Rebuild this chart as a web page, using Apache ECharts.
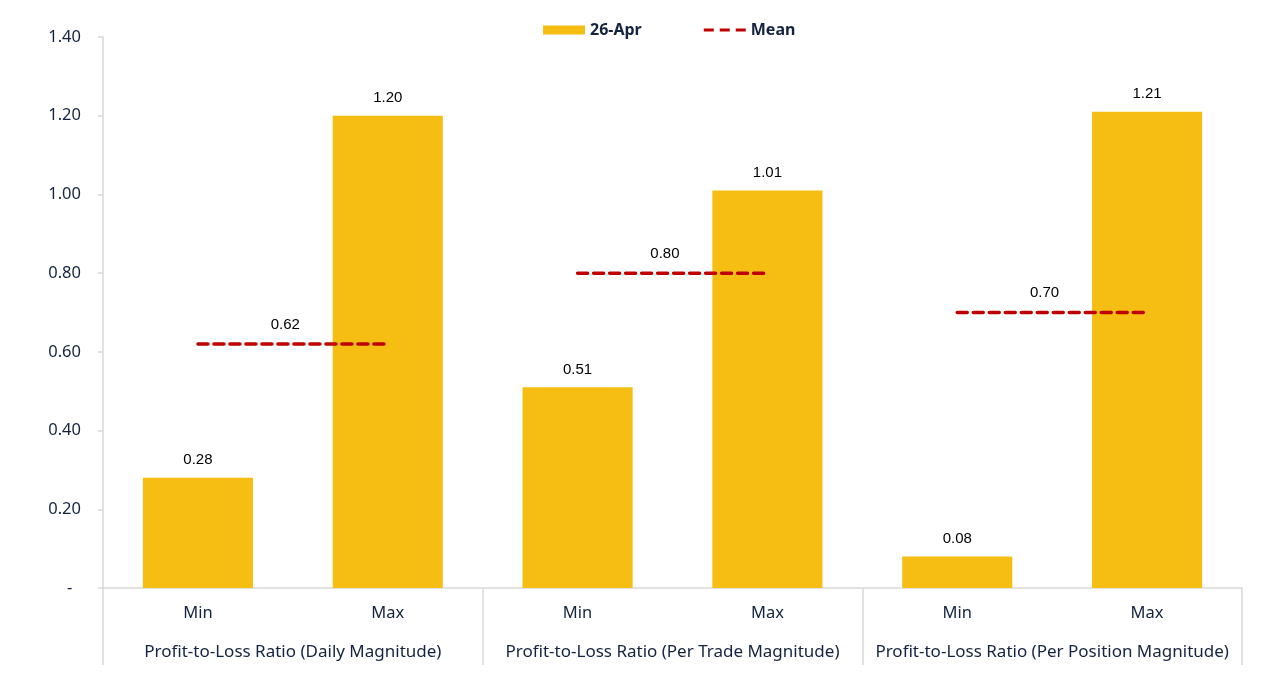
<!DOCTYPE html>
<html>
<head>
<meta charset="utf-8">
<script src="https://cdn.jsdelivr.net/npm/echarts@6/dist/echarts.min.js"></script>
<style>
    html, body { margin: 0; padding: 0; background: #fff; }
    #chart { width: 1280px; height: 693px; }
</style>
</head>
<body>
<div id="chart"></div>
<script>
// data
var categories = ['Min', 'Max', 'Min', 'Max', 'Min', 'Max'];
var groups = [
    'Profit-to-Loss Ratio (Daily Magnitude)',
    'Profit-to-Loss Ratio (Per Trade Magnitude)',
    'Profit-to-Loss Ratio (Per Position Magnitude)'
];
var barValues = [0.28, 1.20, 0.51, 1.01, 0.08, 1.21];
var meanValues = [0.62, 0.80, 0.70];

var textColor = '#14233f';
var axisColor = '#d9d9d9';
var uiFont = 'Noto Sans';

function drawChart() {
    var dom = document.getElementById('chart');
    var myChart = echarts.init(dom);
    var option = null;

    var series = [{
        name: '26-Apr',
        type: 'bar',
        xAxisIndex: 0,
        data: barValues,
        barWidth: '58%',
        itemStyle: { color: '#f6be13' },
        label: {
            show: true,
            position: 'top',
            distance: 10,
            fontFamily: 'Liberation Sans',
            fontSize: 15,
            color: '#000',
            formatter: function (p) { return p.value.toFixed(2); }
        }
    }];

    // one dashed segment per group, from Min centre to Max centre, label in the middle
    meanValues.forEach(function (v, i) {
        series.push({
            name: 'Mean',
            type: 'line',
            xAxisIndex: 2,
            symbol: 'circle',
            symbolSize: 0,
            showSymbol: true,
            data: [
                [2 * i + 0.5, v],
                {
                    value: [2 * i + 0.96, v],
                    label: {
                        show: true,
                        position: 'top',
                        distance: 12,
                        fontFamily: 'Liberation Sans',
                        fontSize: 15,
                        color: '#000',
                        formatter: function (p) { return p.value[1].toFixed(2); }
                    }
                },
                [2 * i + 1.51, v]
            ],
            lineStyle: { color: '#c00000', width: 3.5, type: [10, 6], cap: 'round' },
            itemStyle: { color: '#c00000' },
            z: 5
        });
    });

    option = {
        backgroundColor: '#fff',
        animation: false,
        legend: {
            data: [
                { name: '26-Apr', icon: 'rect' },
                { name: 'Mean', icon: 'path://M0,0H10V3H0Z M16,0H26V3H16Z M32,0H42V3H32Z' }
            ],
            top: 17,
            left: 538,
            itemWidth: 42,
            itemHeight: 9,
            itemGap: 62,
            textStyle: {
                fontFamily: uiFont,
                fontSize: 16,
                fontWeight: 'bold',
                color: textColor
            }
        },
        grid: { left: 103, right: 38, top: 37, bottom: 105, containLabel: false },
        xAxis: [{
            type: 'category',
            data: categories,
            position: 'bottom',
            axisLine: { show: true, lineStyle: { color: axisColor, width: 1.5 } },
            axisTick: { show: false },
            axisLabel: {
                margin: 17,
                fontFamily: uiFont,
                fontSize: 16.5,
                color: textColor
            }
        }, {
            type: 'category',
            data: groups,
            position: 'bottom',
            axisLine: { show: false },
            axisTick: { show: true, interval: 0, length: 77, lineStyle: { color: axisColor, width: 1.5 } },
            axisLabel: {
                interval: 0,
                margin: 56,
                fontFamily: uiFont,
                fontSize: 17,
                color: textColor
            }
        }, {
            type: 'value',
            min: 0,
            max: 6,
            show: false
        }],
        yAxis: {
            type: 'value',
            min: 0,
            max: 1.4,
            interval: 0.2,
            axisLine: { show: true, lineStyle: { color: axisColor, width: 1.5 } },
            axisTick: { show: true, length: 5, lineStyle: { color: axisColor, width: 1.5 } },
            splitLine: { show: false },
            axisLabel: {
                margin: 22,
                fontFamily: uiFont,
                fontSize: 16.5,
                color: textColor,
                formatter: function (v) { return v === 0 ? '-  ' : v.toFixed(2); }
            }
        },
        series: series
    };

    if (option && typeof option === 'object') {
        myChart.setOption(option, true);
    }
}

drawChart();
</script>
</body>
</html>
